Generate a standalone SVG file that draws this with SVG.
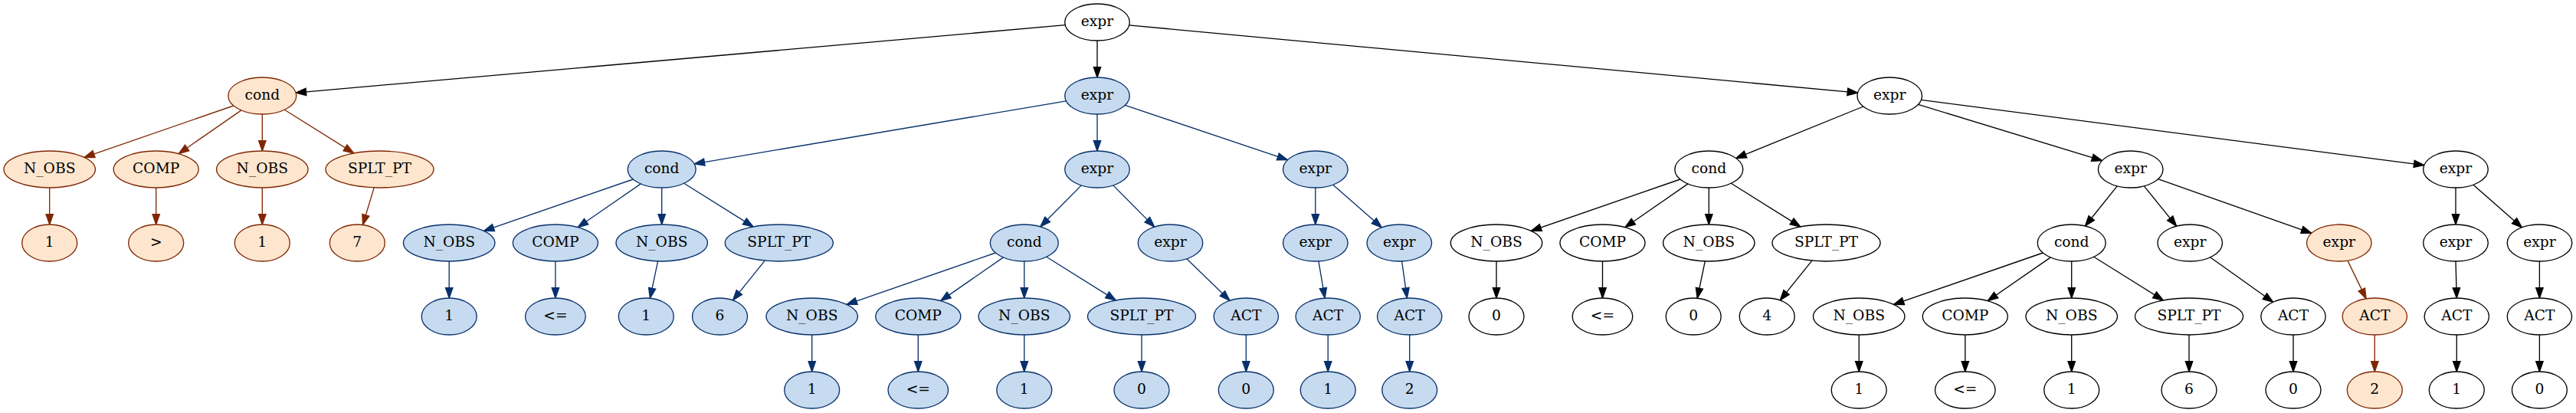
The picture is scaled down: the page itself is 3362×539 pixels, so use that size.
<svg xmlns="http://www.w3.org/2000/svg" width="3362" height="539" viewBox="0 0 3362 539">
<style>
ellipse{stroke-width:1.33}
.w ellipse{fill:#ffffff;stroke:#000000}
.o ellipse{fill:#fee6ce;stroke:#7f2704}
.b ellipse{fill:#c6dbef;stroke:#08306b}
text{font-family:"DejaVu Serif","Liberation Serif",serif;font-size:18.67px;text-anchor:middle;fill:#000000}
#edges line{stroke-width:1.33;fill:none}
.ek{stroke:#000000;marker-end:url(#mk)}
.eo{stroke:#7f2704;marker-end:url(#mo)}
.eb{stroke:#08306b;marker-end:url(#mb)}
</style>
<defs>
<marker id="mk" markerUnits="userSpaceOnUse" overflow="visible" orient="auto" refX="0" refY="0" markerWidth="14" markerHeight="10"><path d="M-13.3,-4.67 L0,0 L-13.3,4.67 Z" fill="#000000" stroke="#000000" stroke-width="1.33"/></marker>
<marker id="mo" markerUnits="userSpaceOnUse" overflow="visible" orient="auto" refX="0" refY="0" markerWidth="14" markerHeight="10"><path d="M-13.3,-4.67 L0,0 L-13.3,4.67 Z" fill="#7f2704" stroke="#7f2704" stroke-width="1.33"/></marker>
<marker id="mb" markerUnits="userSpaceOnUse" overflow="visible" orient="auto" refX="0" refY="0" markerWidth="14" markerHeight="10"><path d="M-13.3,-4.67 L0,0 L-13.3,4.67 Z" fill="#08306b" stroke="#08306b" stroke-width="1.33"/></marker>
</defs>
<rect x="0" y="0" width="3362" height="539" fill="#ffffff"/>
<g id="edges">
<line class="ek" x1="1390.2" y1="32.7" x2="386.2" y2="121.1"/>
<line class="ek" x1="1432" y1="53" x2="1432" y2="101"/>
<line class="ek" x1="1473.8" y1="32.9" x2="2424.5" y2="121.1"/>
<line class="eo" x1="304.8" y1="138" x2="110" y2="205.4"/>
<line class="eo" x1="315" y1="143.9" x2="233.2" y2="200.6"/>
<line class="eo" x1="342.3" y1="149" x2="342.3" y2="197"/>
<line class="eo" x1="371.3" y1="143.2" x2="461.8" y2="199.9"/>
<line class="eo" x1="64.7" y1="245" x2="64.7" y2="293"/>
<line class="eo" x1="203.7" y1="245" x2="203.7" y2="293"/>
<line class="eo" x1="342.3" y1="245" x2="342.3" y2="293"/>
<line class="eo" x1="488.2" y1="244.9" x2="473.5" y2="293.5"/>
<line class="eb" x1="1391.5" y1="131.8" x2="906.2" y2="213.8"/>
<line class="eb" x1="1432" y1="149" x2="1432" y2="197"/>
<line class="eb" x1="1468.4" y1="137.3" x2="1680.4" y2="208.7"/>
<line class="eb" x1="826.2" y1="234" x2="631.5" y2="301.4"/>
<line class="eb" x1="836.3" y1="239.9" x2="754.2" y2="296.7"/>
<line class="eb" x1="863.7" y1="245" x2="863.7" y2="293"/>
<line class="eb" x1="892.7" y1="239.2" x2="983.1" y2="295.9"/>
<line class="eb" x1="586.2" y1="341" x2="586.2" y2="389"/>
<line class="eb" x1="724.9" y1="341" x2="724.9" y2="389"/>
<line class="eb" x1="858.6" y1="340.9" x2="848.4" y2="389.2"/>
<line class="eb" x1="998.2" y1="340.1" x2="956.5" y2="391.9"/>
<line class="eb" x1="1411.3" y1="241.9" x2="1357.8" y2="295.8"/>
<line class="eb" x1="1452.8" y1="241.9" x2="1506.7" y2="296.1"/>
<line class="eb" x1="1716.8" y1="245" x2="1716.8" y2="293"/>
<line class="eb" x1="1739.8" y1="241.2" x2="1803.3" y2="296.9"/>
<line class="eb" x1="1299.3" y1="330" x2="1105.1" y2="397.4"/>
<line class="eb" x1="1309.5" y1="335.9" x2="1227.7" y2="392.6"/>
<line class="eb" x1="1336.8" y1="341" x2="1336.8" y2="389"/>
<line class="eb" x1="1365.8" y1="335.2" x2="1456.3" y2="391.9"/>
<line class="eb" x1="1548.8" y1="337.7" x2="1605" y2="392.3"/>
<line class="eb" x1="1720.9" y1="340.9" x2="1729.1" y2="389.1"/>
<line class="eb" x1="1829.6" y1="340.9" x2="1836.4" y2="389.1"/>
<line class="eb" x1="1059.7" y1="437" x2="1059.7" y2="485"/>
<line class="eb" x1="1198.3" y1="437" x2="1198.3" y2="485"/>
<line class="eb" x1="1336.8" y1="437" x2="1336.8" y2="485"/>
<line class="eb" x1="1490" y1="437" x2="1490" y2="485"/>
<line class="eb" x1="1626.3" y1="437" x2="1626.3" y2="485"/>
<line class="eb" x1="1733.2" y1="437" x2="1733.2" y2="485"/>
<line class="eb" x1="1839.7" y1="437" x2="1839.7" y2="485"/>
<line class="ek" x1="2431.8" y1="139" x2="2265.8" y2="206.5"/>
<line class="ek" x1="2503.5" y1="136.4" x2="2743.5" y2="209.6"/>
<line class="ek" x1="2507.4" y1="130.4" x2="3163.8" y2="215.6"/>
<line class="ek" x1="2192.8" y1="234" x2="1998.3" y2="301.4"/>
<line class="ek" x1="2203" y1="239.9" x2="2120.9" y2="296.7"/>
<line class="ek" x1="2230.3" y1="245" x2="2230.3" y2="293"/>
<line class="ek" x1="2259.3" y1="239.2" x2="2349.8" y2="295.9"/>
<line class="ek" x1="1953" y1="341" x2="1953" y2="389"/>
<line class="ek" x1="2091.5" y1="341" x2="2091.5" y2="389"/>
<line class="ek" x1="2225.3" y1="340.9" x2="2215.2" y2="389.2"/>
<line class="ek" x1="2364.9" y1="340.1" x2="2323.2" y2="391.9"/>
<line class="ek" x1="2763.2" y1="242.8" x2="2721.4" y2="295"/>
<line class="ek" x1="2798.3" y1="242.8" x2="2840.6" y2="295.2"/>
<line class="ek" x1="2816.6" y1="233.7" x2="3016.9" y2="304.3"/>
<line class="ek" x1="3205" y1="245" x2="3205" y2="293"/>
<line class="ek" x1="3228" y1="241.2" x2="3291.5" y2="296.9"/>
<line class="ek" x1="2666.2" y1="330" x2="2471.5" y2="397.4"/>
<line class="ek" x1="2676.3" y1="335.9" x2="2594.2" y2="392.7"/>
<line class="ek" x1="2703.7" y1="341" x2="2703.7" y2="389"/>
<line class="ek" x1="2732.7" y1="335.2" x2="2823.3" y2="391.9"/>
<line class="ek" x1="2884.6" y1="335.8" x2="2966.7" y2="394.3"/>
<line class="eo" x1="3064" y1="340.1" x2="3088.1" y2="389.9"/>
<line class="ek" x1="3205" y1="341" x2="3206.3" y2="389"/>
<line class="ek" x1="3314.4" y1="341" x2="3314.4" y2="389"/>
<line class="ek" x1="2426.2" y1="437" x2="2426.2" y2="485"/>
<line class="ek" x1="2564.8" y1="437" x2="2564.8" y2="485"/>
<line class="ek" x1="2703.7" y1="437" x2="2703.7" y2="485"/>
<line class="ek" x1="2857" y1="437" x2="2857" y2="485"/>
<line class="ek" x1="2993" y1="437" x2="2993" y2="485"/>
<line class="eo" x1="3099.3" y1="437" x2="3099.3" y2="485"/>
<line class="ek" x1="3206.3" y1="437" x2="3206.3" y2="485"/>
<line class="ek" x1="3314.4" y1="437" x2="3314.4" y2="485"/>
</g>
<g id="n0" class="w"><ellipse cx="1432" cy="29" rx="42.3" ry="24"/><text x="1432" y="34">expr</text></g>
<g id="n1" class="o"><ellipse cx="342.3" cy="125" rx="44.5" ry="24"/><text x="342.3" y="130">cond</text></g>
<g id="n2" class="o"><ellipse cx="64.7" cy="221" rx="59.7" ry="24"/><text x="64.7" y="226">N_OBS</text></g>
<g id="n3" class="o"><ellipse cx="203.7" cy="221" rx="55.5" ry="24"/><text x="203.7" y="226">COMP</text></g>
<g id="n4" class="o"><ellipse cx="342.3" cy="221" rx="59.7" ry="24"/><text x="342.3" y="226">N_OBS</text></g>
<g id="n5" class="o"><ellipse cx="495.5" cy="221" rx="70.5" ry="24"/><text x="495.5" y="226">SPLT_PT</text></g>
<g id="n6" class="o"><ellipse cx="64.7" cy="317" rx="36" ry="24"/><text x="64.7" y="322">1</text></g>
<g id="n7" class="o"><ellipse cx="203.7" cy="317" rx="36" ry="24"/><text x="203.7" y="322">&gt;</text></g>
<g id="n8" class="o"><ellipse cx="342.3" cy="317" rx="36" ry="24"/><text x="342.3" y="322">1</text></g>
<g id="n9" class="o"><ellipse cx="466.3" cy="317" rx="36" ry="24"/><text x="466.3" y="322">7</text></g>
<g id="b0" class="b"><ellipse cx="1432" cy="125" rx="42.3" ry="24"/><text x="1432" y="130">expr</text></g>
<g id="b1" class="b"><ellipse cx="863.7" cy="221" rx="44.5" ry="24"/><text x="863.7" y="226">cond</text></g>
<g id="b2" class="b"><ellipse cx="1432" cy="221" rx="42.3" ry="24"/><text x="1432" y="226">expr</text></g>
<g id="b3" class="b"><ellipse cx="1716.8" cy="221" rx="42.3" ry="24"/><text x="1716.8" y="226">expr</text></g>
<g id="b4" class="b"><ellipse cx="586.2" cy="317" rx="59.7" ry="24"/><text x="586.2" y="322">N_OBS</text></g>
<g id="b5" class="b"><ellipse cx="724.9" cy="317" rx="55.5" ry="24"/><text x="724.9" y="322">COMP</text></g>
<g id="b6" class="b"><ellipse cx="863.7" cy="317" rx="59.7" ry="24"/><text x="863.7" y="322">N_OBS</text></g>
<g id="b7" class="b"><ellipse cx="1016.8" cy="317" rx="70.5" ry="24"/><text x="1016.8" y="322">SPLT_PT</text></g>
<g id="b8" class="b"><ellipse cx="586.2" cy="413" rx="36" ry="24"/><text x="586.2" y="418">1</text></g>
<g id="b9" class="b"><ellipse cx="724.9" cy="413" rx="39.3" ry="24"/><text x="724.9" y="418">&lt;=</text></g>
<g id="b10" class="b"><ellipse cx="843.3" cy="413" rx="36" ry="24"/><text x="843.3" y="418">1</text></g>
<g id="b11" class="b"><ellipse cx="939.5" cy="413" rx="36" ry="24"/><text x="939.5" y="418">6</text></g>
<g id="b12" class="b"><ellipse cx="1336.8" cy="317" rx="44.5" ry="24"/><text x="1336.8" y="322">cond</text></g>
<g id="b13" class="b"><ellipse cx="1527.5" cy="317" rx="42.3" ry="24"/><text x="1527.5" y="322">expr</text></g>
<g id="b14" class="b"><ellipse cx="1059.7" cy="413" rx="59.7" ry="24"/><text x="1059.7" y="418">N_OBS</text></g>
<g id="b15" class="b"><ellipse cx="1198.3" cy="413" rx="55.5" ry="24"/><text x="1198.3" y="418">COMP</text></g>
<g id="b16" class="b"><ellipse cx="1336.8" cy="413" rx="59.7" ry="24"/><text x="1336.8" y="418">N_OBS</text></g>
<g id="b17" class="b"><ellipse cx="1490" cy="413" rx="70.5" ry="24"/><text x="1490" y="418">SPLT_PT</text></g>
<g id="b18" class="b"><ellipse cx="1059.7" cy="509" rx="36" ry="24"/><text x="1059.7" y="514">1</text></g>
<g id="b19" class="b"><ellipse cx="1198.3" cy="509" rx="39.3" ry="24"/><text x="1198.3" y="514">&lt;=</text></g>
<g id="b20" class="b"><ellipse cx="1336.8" cy="509" rx="36" ry="24"/><text x="1336.8" y="514">1</text></g>
<g id="b21" class="b"><ellipse cx="1490" cy="509" rx="36" ry="24"/><text x="1490" y="514">0</text></g>
<g id="b22" class="b"><ellipse cx="1626.3" cy="413" rx="42.2" ry="24"/><text x="1626.3" y="418">ACT</text></g>
<g id="b23" class="b"><ellipse cx="1626.3" cy="509" rx="36" ry="24"/><text x="1626.3" y="514">0</text></g>
<g id="b24" class="b"><ellipse cx="1716.8" cy="317" rx="42.3" ry="24"/><text x="1716.8" y="322">expr</text></g>
<g id="b25" class="b"><ellipse cx="1826.3" cy="317" rx="42.3" ry="24"/><text x="1826.3" y="322">expr</text></g>
<g id="b26" class="b"><ellipse cx="1733.2" cy="413" rx="42.2" ry="24"/><text x="1733.2" y="418">ACT</text></g>
<g id="b27" class="b"><ellipse cx="1839.7" cy="413" rx="42.2" ry="24"/><text x="1839.7" y="418">ACT</text></g>
<g id="b28" class="b"><ellipse cx="1733.2" cy="509" rx="36" ry="24"/><text x="1733.2" y="514">1</text></g>
<g id="b29" class="b"><ellipse cx="1839.7" cy="509" rx="36" ry="24"/><text x="1839.7" y="514">2</text></g>
<g id="w0" class="w"><ellipse cx="2466.2" cy="125" rx="42.3" ry="24"/><text x="2466.2" y="130">expr</text></g>
<g id="w1" class="w"><ellipse cx="2230.3" cy="221" rx="44.5" ry="24"/><text x="2230.3" y="226">cond</text></g>
<g id="w2" class="w"><ellipse cx="2780.7" cy="221" rx="42.3" ry="24"/><text x="2780.7" y="226">expr</text></g>
<g id="w3" class="w"><ellipse cx="3205" cy="221" rx="42.3" ry="24"/><text x="3205" y="226">expr</text></g>
<g id="w4" class="w"><ellipse cx="1953" cy="317" rx="59.7" ry="24"/><text x="1953" y="322">N_OBS</text></g>
<g id="w5" class="w"><ellipse cx="2091.5" cy="317" rx="55.5" ry="24"/><text x="2091.5" y="322">COMP</text></g>
<g id="w6" class="w"><ellipse cx="2230.3" cy="317" rx="59.7" ry="24"/><text x="2230.3" y="322">N_OBS</text></g>
<g id="w7" class="w"><ellipse cx="2383.5" cy="317" rx="70.5" ry="24"/><text x="2383.5" y="322">SPLT_PT</text></g>
<g id="w8" class="w"><ellipse cx="1953" cy="413" rx="36" ry="24"/><text x="1953" y="418">0</text></g>
<g id="w9" class="w"><ellipse cx="2091.5" cy="413" rx="39.3" ry="24"/><text x="2091.5" y="418">&lt;=</text></g>
<g id="w10" class="w"><ellipse cx="2210.2" cy="413" rx="36" ry="24"/><text x="2210.2" y="418">0</text></g>
<g id="w11" class="w"><ellipse cx="2306.2" cy="413" rx="36" ry="24"/><text x="2306.2" y="418">4</text></g>
<g id="w12" class="w"><ellipse cx="2703.7" cy="317" rx="44.5" ry="24"/><text x="2703.7" y="322">cond</text></g>
<g id="w13" class="w"><ellipse cx="2858.2" cy="317" rx="42.3" ry="24"/><text x="2858.2" y="322">expr</text></g>
<g id="w14" class="o"><ellipse cx="3052.8" cy="317" rx="42.3" ry="24"/><text x="3052.8" y="322">expr</text></g>
<g id="w15" class="w"><ellipse cx="2426.2" cy="413" rx="59.7" ry="24"/><text x="2426.2" y="418">N_OBS</text></g>
<g id="w16" class="w"><ellipse cx="2564.8" cy="413" rx="55.5" ry="24"/><text x="2564.8" y="418">COMP</text></g>
<g id="w17" class="w"><ellipse cx="2703.7" cy="413" rx="59.7" ry="24"/><text x="2703.7" y="418">N_OBS</text></g>
<g id="w18" class="w"><ellipse cx="2857" cy="413" rx="70.5" ry="24"/><text x="2857" y="418">SPLT_PT</text></g>
<g id="w19" class="w"><ellipse cx="2426.2" cy="509" rx="36" ry="24"/><text x="2426.2" y="514">1</text></g>
<g id="w20" class="w"><ellipse cx="2564.8" cy="509" rx="39.3" ry="24"/><text x="2564.8" y="514">&lt;=</text></g>
<g id="w21" class="w"><ellipse cx="2703.7" cy="509" rx="36" ry="24"/><text x="2703.7" y="514">1</text></g>
<g id="w22" class="w"><ellipse cx="2857" cy="509" rx="36" ry="24"/><text x="2857" y="514">6</text></g>
<g id="w23" class="w"><ellipse cx="2993" cy="413" rx="42.2" ry="24"/><text x="2993" y="418">ACT</text></g>
<g id="w24" class="w"><ellipse cx="2993" cy="509" rx="36" ry="24"/><text x="2993" y="514">0</text></g>
<g id="w25" class="o"><ellipse cx="3099.3" cy="413" rx="42.2" ry="24"/><text x="3099.3" y="418">ACT</text></g>
<g id="w26" class="o"><ellipse cx="3099.3" cy="509" rx="36" ry="24"/><text x="3099.3" y="514">2</text></g>
<g id="w27" class="w"><ellipse cx="3205" cy="317" rx="42.3" ry="24"/><text x="3205" y="322">expr</text></g>
<g id="w28" class="w"><ellipse cx="3314.5" cy="317" rx="42.3" ry="24"/><text x="3314.5" y="322">expr</text></g>
<g id="w29" class="w"><ellipse cx="3206.3" cy="413" rx="42.2" ry="24"/><text x="3206.3" y="418">ACT</text></g>
<g id="w30" class="w"><ellipse cx="3314.4" cy="413" rx="42.2" ry="24"/><text x="3314.4" y="418">ACT</text></g>
<g id="w31" class="w"><ellipse cx="3206.3" cy="509" rx="36" ry="24"/><text x="3206.3" y="514">1</text></g>
<g id="w32" class="w"><ellipse cx="3314.4" cy="509" rx="36" ry="24"/><text x="3314.4" y="514">0</text></g>
</svg>
